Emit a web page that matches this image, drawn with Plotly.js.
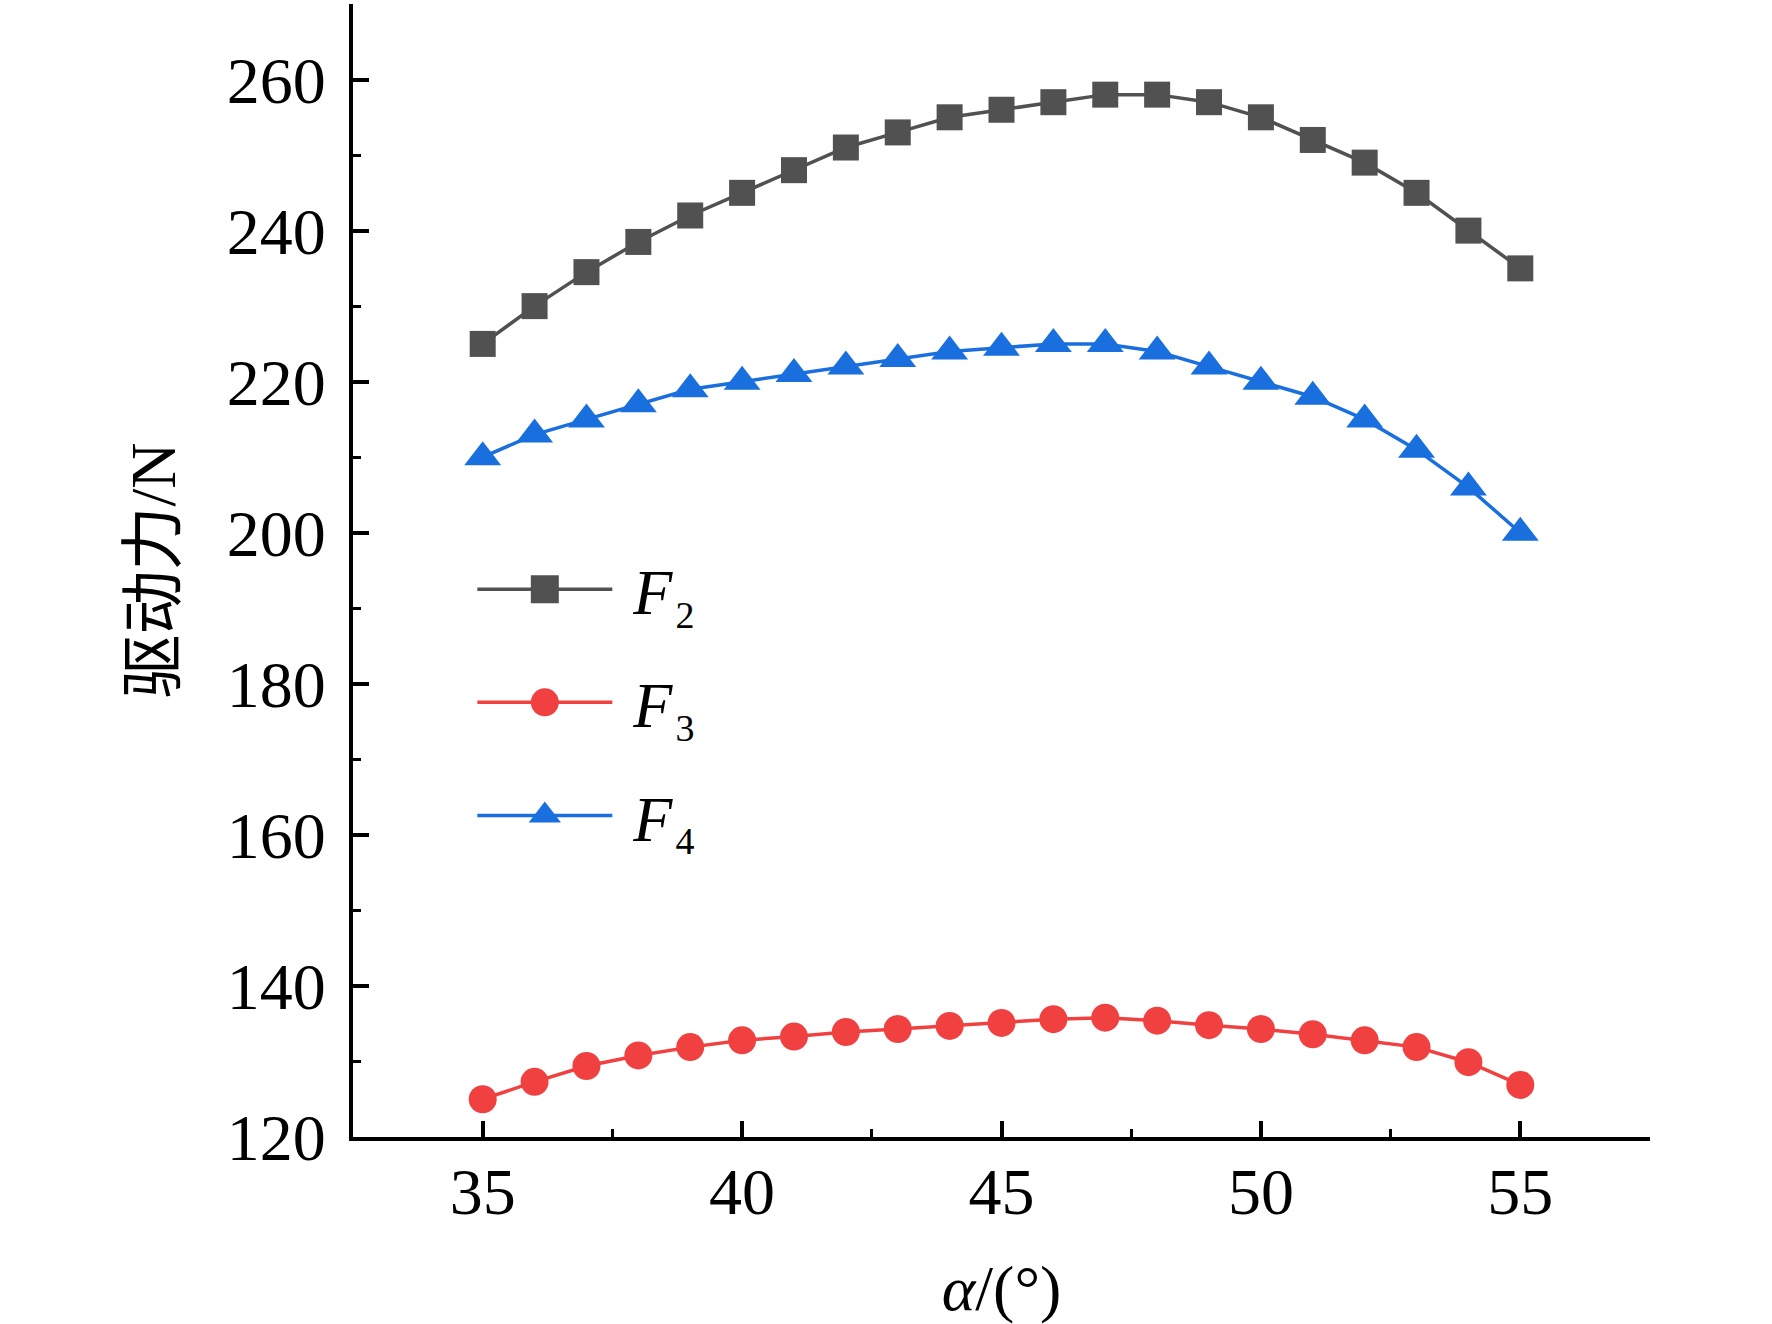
<!DOCTYPE html>
<html>
<head>
<meta charset="utf-8">
<script src="https://cdn.plot.ly/plotly-3.0.1.min.js"></script>
<style>html,body{margin:0;padding:0;background:#fff;}#chart{width:1772px;height:1324px;}</style>
</head>
<body>
<div id="chart"></div>
<script>
const alpha = [35,36,37,38,39,40,41,42,43,44,45,46,47,48,49,50,51,52,53,54,55];
const F2 = [225,230,234.5,238.5,242,245,248,251,253,255,256,257,258,258,257,255,252,249,245,240,235];
const F3 = [125,127.3,129.4,130.8,131.9,132.8,133.3,133.9,134.3,134.7,135.1,135.6,135.8,135.4,134.8,134.3,133.6,132.8,131.9,129.9,126.9];
const F4 = [210,213,215,217,219,220,221,222,223,224,224.5,225,225,224,222,220,218,215,211,206,200];
const seriesNames = ['\u00A0<i>F</i><sub><span style="font-size:38px">\u200A2</span></sub>',
                     '\u00A0<i>F</i><sub><span style="font-size:38px">\u200A3</span></sub>',
                     '\u00A0<i>F</i><sub><span style="font-size:38px">\u200A4</span></sub>'];
const xTitle = '<i>α</i>/(°)';
const yTitle = '驱动力/N';

const colors = ['#515151','#F14040','#1A6FDF'];
const symbols = ['square','circle','triangle-up'];
const sizes = [26,28,32];
const data = [F2,F3,F4].map((v,i)=>({
  x: alpha, y: v, type:'scatter', mode:'lines+markers', name: seriesNames[i],
  legendgroup: 'g'+i,
  line:{color:colors[i], width:3.5},
  marker:{symbol:symbols[i], size:sizes[i], color:colors[i]}
}));

const serif = 'Liberation Serif, Times New Roman, serif';
const layout = {
  width:1772, height:1324,
  margin:{l:353, r:122, t:4, b:187},
  paper_bgcolor:'#fff', plot_bgcolor:'#fff',
  font:{family:serif, color:'#000', size:66},
  showlegend:true,
  legend:{x:0.092, y:0.526, xanchor:'left', yanchor:'top', bgcolor:'rgba(0,0,0,0)',
          font:{family:serif, size:64, color:'#000'}, itemwidth:135, tracegroupgap:27},
  xaxis:{range:[32.5,57.5], showgrid:false, zeroline:false, showline:true, linecolor:'#000', linewidth:4,
         ticks:'inside', ticklen:16, tickwidth:4, tickcolor:'#000', dtick:5, tick0:35,
         minor:{ticks:'inside', ticklen:8, tickwidth:3, tickcolor:'#000', dtick:2.5},
         tickfont:{family:serif, size:66}, ticklabelstandoff:-6,
         title:{text:xTitle, font:{family:serif, size:64}, standoff:40}},
  yaxis:{range:[120,270], showgrid:false, zeroline:false, showline:true, linecolor:'#000', linewidth:4,
         ticks:'inside', ticklen:16, tickwidth:4, tickcolor:'#000', dtick:20, tick0:120,
         minor:{ticks:'inside', ticklen:8, tickwidth:3, tickcolor:'#000', dtick:10},
         tickfont:{family:serif, size:66}, ticklabelstandoff:10,
         title:{text:yTitle, font:{family:serif+', Noto Sans CJK SC', size:64}, standoff:31}}
};
Plotly.newPlot('chart', data, layout, {displayModeBar:false}).then(()=>{
  document.querySelectorAll('.legend .legendpoints path.scatterpts').forEach(p=>{
    const t = p.getAttribute('transform')||'';
    p.setAttribute('transform', t+' scale(1.75)');
  });
});
</script>
</body>
</html>
